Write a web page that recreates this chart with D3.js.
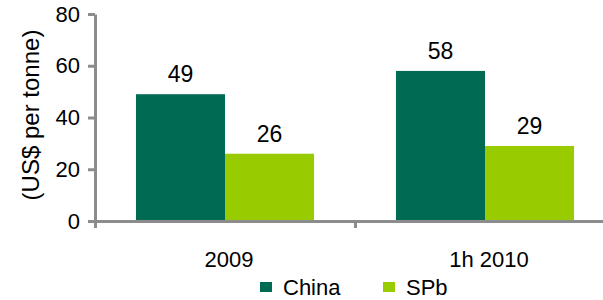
<!DOCTYPE html>
<html>
<head>
<meta charset="utf-8">
<script src="https://cdn.jsdelivr.net/npm/d3@7"></script>
<style>
  body { margin: 0; background: #fff; }
  text { font-family: "Liberation Sans", Arial, sans-serif; fill: #000; }
</style>
</head>
<body>
<div id="chart"></div>
<script>
/*------------------- Data --------------------*/
const categories = ["2009", "1h 2010"];
const seriesNames = ["China", "SPb"];
const chinaValues = [49, 58];
const spbValues = [26, 29];
const yTicks = [0, 20, 40, 60, 80];
const colors = ["#006a52", "#99cc00"];

const width = 603, height = 300;
const axisColor = "#8c8c8c";

const svg = d3.select("#chart").append("svg")
    .attr("width", width)
    .attr("height", height);

const rows = categories.map((c, i) => ({
    category: c,
    values: [chinaValues[i], spbValues[i]]
}));

/*------------------- Scales --------------------*/
const x0 = d3.scaleBand().domain(categories).range([95, 615]);
const x1 = d3.scaleBand().domain(seriesNames)
    .range([0, x0.bandwidth()])
    .paddingOuter(0.46);
const y = d3.scaleLinear().domain([0, 80]).range([221, 14]);

/*------------------- Bars --------------------*/
const groups = svg.selectAll("g.group")
    .data(rows)
    .join("g")
    .attr("class", "group")
    .attr("transform", d => `translate(${x0(d.category)},0)`);

groups.selectAll("rect")
    .data(d => d.values.map((v, i) => ({ name: seriesNames[i], value: v, i })))
    .join("rect")
    .attr("x", d => x1(d.name))
    .attr("y", d => y(d.value))
    .attr("width", x1.bandwidth())
    .attr("height", d => y(0) - y(d.value))
    .attr("fill", d => colors[d.i]);

groups.selectAll("text.val")
    .data(d => d.values.map((v, i) => ({ name: seriesNames[i], value: v })))
    .join("text")
    .attr("class", "val")
    .attr("x", d => x1(d.name) + x1.bandwidth() / 2)
    .attr("y", d => y(d.value) - 12)
    .attr("text-anchor", "middle")
    .style("font-size", "23px")
    .text(d => d.value);

/*------------------- Axes --------------------*/
const yAxis = svg.append("g")
    .attr("transform", "translate(95,0)")
    .call(d3.axisLeft(y).tickValues(yTicks).tickSize(7).tickSizeOuter(0).tickPadding(8));

const xAxis = svg.append("g")
    .attr("transform", "translate(0,221)")
    .call(d3.axisBottom(d3.scaleLinear().domain([0, 1]).range([95, 615]))
        .tickValues([0, 0.5, 1]).tickSize(7).tickFormat(""));

[yAxis, xAxis].forEach(a => {
    a.select(".domain").attr("stroke", axisColor).attr("stroke-width", 3);
    a.selectAll(".tick line").attr("stroke", axisColor).attr("stroke-width", 3);
});
yAxis.selectAll(".tick text").style("font-size", "22px").attr("fill", "#000");

// category labels
svg.selectAll("text.cat")
    .data(categories)
    .join("text")
    .attr("class", "cat")
    .attr("x", d => x0(d) + x0.bandwidth() / 2 + 4)
    .attr("y", 267)
    .attr("text-anchor", "middle")
    .style("font-size", "22px")
    .text(d => d);

// y axis title
svg.append("text")
    .attr("transform", "translate(39,115) rotate(-90)")
    .attr("text-anchor", "middle")
    .style("font-size", "24px")
    .text("(US$ per tonne)");

/*------------------- Legend --------------------*/
const legendX = [260, 383];
const legend = svg.selectAll("g.legend")
    .data(seriesNames)
    .join("g")
    .attr("class", "legend")
    .attr("transform", (d, i) => `translate(${legendX[i]},282)`);

legend.append("rect")
    .attr("width", 12)
    .attr("height", 10)
    .attr("fill", (d, i) => colors[i]);

legend.append("text")
    .attr("x", 23)
    .attr("y", 13)
    .style("font-size", "22px")
    .text(d => d);
</script>
</body>
</html>
